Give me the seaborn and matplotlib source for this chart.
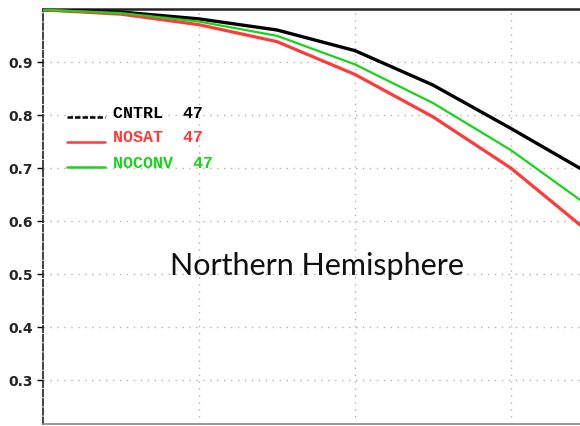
import matplotlib
matplotlib.use("Agg")
import matplotlib.pyplot as plt
from matplotlib.lines import Line2D
import numpy as np
import pandas as pd
import seaborn as sns

# Anomaly correlation by forecast day for three experiments
days = [0, 1, 2, 3, 4, 5, 6, 7]
cntrl = [0.999, 0.995, 0.982, 0.961, 0.922, 0.857, 0.775, 0.690]
nosat = [0.999, 0.991, 0.971, 0.939, 0.877, 0.797, 0.700, 0.579]
noconv = [0.999, 0.993, 0.977, 0.950, 0.896, 0.823, 0.734, 0.628]

experiments = ["CNTRL", "NOSAT", "NOCONV"]
case_counts = [47, 47, 47]
colors = ["#000000", "#ff3a3a", "#18d418"]
widths = [2.4, 2.3, 1.6]
yticks = [0.3, 0.4, 0.5, 0.6, 0.7, 0.8, 0.9]
region = "Northern Hemisphere"

df = pd.DataFrame({
    "day": days * 3,
    "ac": cntrl + nosat + noconv,
    "exp": np.repeat(experiments, len(days)),
})

sns.set_style("white")
plt.rcParams["font.family"] = ["DejaVu Sans"]

fig = plt.figure(figsize=(5.8, 4.26), dpi=100)
W, H = 580, 426
ax_l, ax_r, ax_t, ax_b = 43, 580, 9.35, 424
ax = fig.add_axes([ax_l / W, 1 - ax_b / H, (ax_r - ax_l) / W, (ax_b - ax_t) / H])

for name, c, lw in zip(experiments, colors, widths):
    sns.lineplot(data=df[df["exp"] == name], x="day", y="ac", color=c,
                 linewidth=lw, ax=ax, legend=False, zorder=3)

ax.set_xlim(0, (ax_r - ax_l) / 78.0)
ax.set_ylim(0.3 - (ax_b - 380) / 529.5, 1.0)
ax.set_xticks([2, 4, 6])
ax.set_yticks(yticks)
ax.set_yticklabels([f"{v:.1f}" for v in yticks], fontsize=10, fontweight="bold")
ax.tick_params(axis="x", length=0, labelbottom=False)
ax.tick_params(axis="y", direction="out", length=4, width=1, color="black",
               pad=3, left=True)
ax.set_xlabel("")
ax.set_ylabel("")
ax.grid(True, color="#b4b4b4", linestyle=(0, (1, 4)), linewidth=1.0, zorder=1)

ax.spines["right"].set_visible(False)
ax.spines["top"].set_color("#222222")
ax.spines["top"].set_linewidth(1.8)
ax.spines["left"].set_linestyle((0, (4, 1.5)))
ax.spines["left"].set_color("#222222")
ax.spines["left"].set_linewidth(1.2)
ax.spines["bottom"].set_color("#888888")
ax.spines["bottom"].set_linewidth(1.2)

# key lines and labels
def fx(px):
    return (px - ax_l) / (ax_r - ax_l)

def fy(py):
    return (ax_b - py) / (ax_b - ax_t)

line_rows = [117, 142, 167]
text_rows = [113, 138, 163]
key_styles = [(0, (2.2, 0.8)), "-", "-"]
for name, n, c, ly, ty, ls in zip(experiments, case_counts, colors, line_rows,
                                  text_rows, key_styles):
    ax.add_line(Line2D([fx(67), fx(105)], [fy(ly), fy(ly)], transform=ax.transAxes,
                       color=c, linewidth=1.8, linestyle=ls, zorder=4))
    ax.text(fx(113), fy(ty), f"{name}  {n}", transform=ax.transAxes, color=c,
            fontsize=12, fontweight="bold", family=["Liberation Mono"],
            va="center", ha="left", zorder=4)

ax.text(fx(317), fy(266), region, transform=ax.transAxes, fontsize=22,
        family=["Lato"], ha="center", va="center", color="#111111", zorder=4)

fig.savefig("out.png", dpi=100)
